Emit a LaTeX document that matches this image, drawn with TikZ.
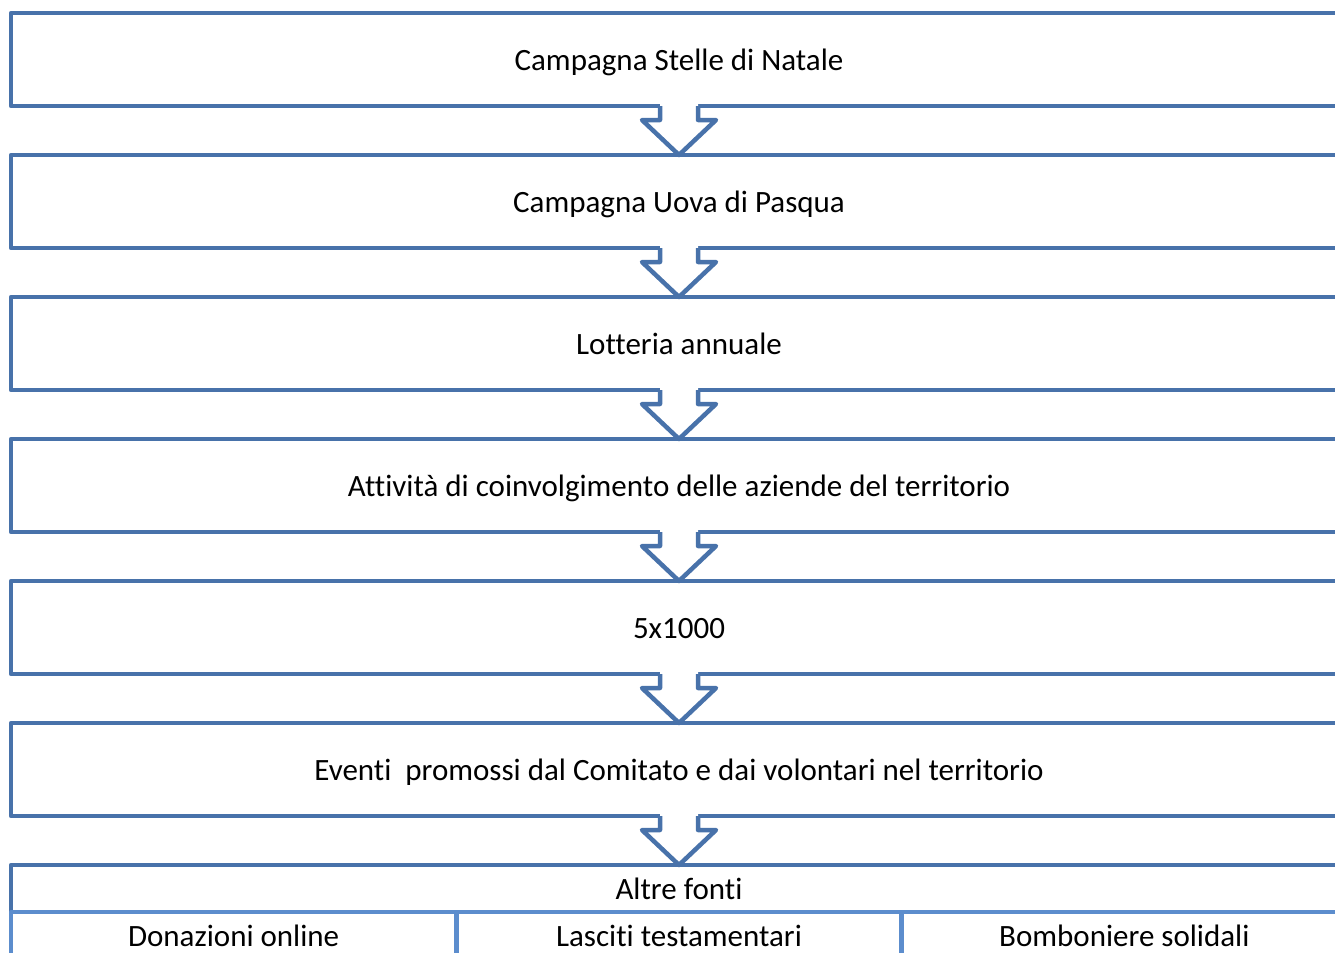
\documentclass[tikz,border=0pt]{standalone}
\usepackage{fontspec}
\setmainfont{Carlito}[RawFeature={-liga;-clig;-dlig;-calt}]
\usepackage{tikz}
\usetikzlibrary{positioning, calc}
\definecolor{bordo}{RGB}{72,114,170}
\definecolor{bordochiaro}{RGB}{92,141,205}

% freccia a chevron tra due riquadri
\newcommand{\freccia}[2]{%
  \fill[white] ($(#1.south)+(-19,-3)$) -- ++(0,17) -- ++(-18,0) -- (#2.north)
    -- ($(#1.south)+(37,14)$) -- ++(-18,0) -- ++(0,-17) -- cycle;
  \draw[bordo, line width=2.25pt, line join=round]
    ($(#1.south)+(-19,0)$) -- ++(0,14) -- ++(-18,0) -- (#2.north)
    -- ($(#1.south)+(37,14)$) -- ++(-18,0) -- ++(0,-14);
}

\begin{document}
\begin{tikzpicture}[x=0.5pt, y=-0.5pt, node distance=24.5pt,
	fonte/.style={draw=bordo, line width=2.25pt, line join=round, rectangle,
		minimum width=668pt, minimum height=46.5pt, inner sep=0pt, outer sep=0pt,
		text height=10.8pt, text depth=0pt,
		font=\fontsize{15.5}{18}\selectfont},
	sottofonte/.style={fonte, draw=bordochiaro, minimum width=222.67pt, minimum height=23.5pt}]
		\useasboundingbox (0,0) rectangle (1335,953);
		\clip (0,0) rectangle (1335,953);
		\node[fonte, anchor=north west]               (natale)    at (11,13) {Campagna Stelle di Natale};
		\node[fonte, below=of natale]                 (pasqua)    {Campagna Uova di Pasqua};
		\node[fonte, below=of pasqua]                 (lotteria)  {Lotteria annuale};
		\node[fonte, below=of lotteria]               (aziende)   {Attività di coinvolgimento delle aziende del territorio};
		\node[fonte, below=of aziende]                (cinque)    {5x1000};
		\node[fonte, below=of cinque]                 (eventi)    {Eventi\ \ promossi dal Comitato e dai volontari nel territorio};
		\node[fonte, below=of eventi, minimum height=23.5pt] (altre) {Altre fonti};
		\node[sottofonte, anchor=north west]          (donazioni) at (altre.south west) {Donazioni online};
		\node[sottofonte, right=0pt of donazioni]     (lasciti)   {Lasciti testamentari};
		\node[sottofonte, right=0pt of lasciti]       (bomboniere) {Bomboniere solidali};

		\freccia{natale}{pasqua}
		\freccia{pasqua}{lotteria}
		\freccia{lotteria}{aziende}
		\freccia{aziende}{cinque}
		\freccia{cinque}{eventi}
		\freccia{eventi}{altre}
	\end{tikzpicture}
\end{document}
